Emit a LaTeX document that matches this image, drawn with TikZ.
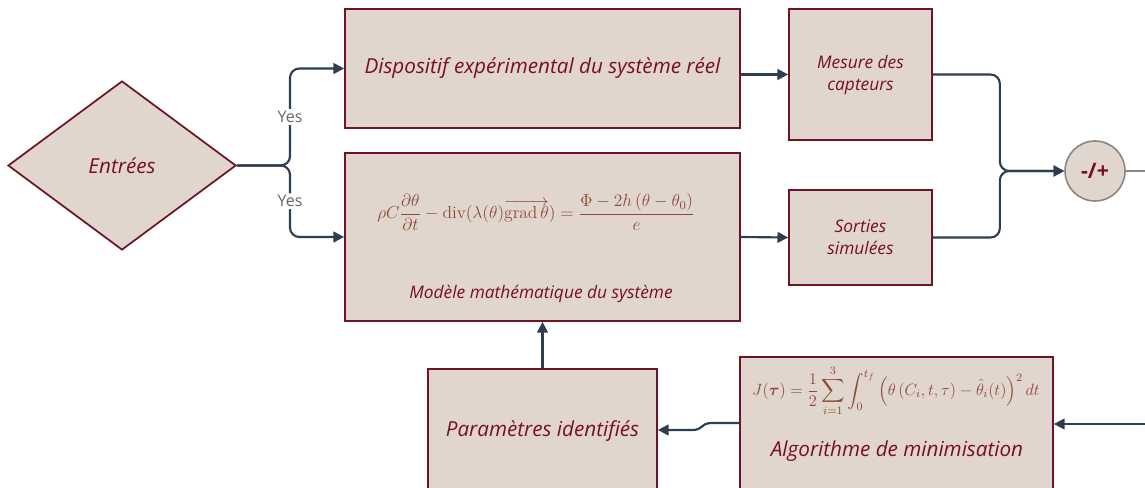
\RequirePackage{fix-cm}
\documentclass[tikz,border=0pt]{standalone}
\usepackage{amsmath,amssymb}
\usepackage{fontspec}
\setsansfont{Open Sans}
\usepackage{xcolor}
\usepackage{tikz}
\usetikzlibrary{arrows.meta,positioning,shapes.geometric,calc}
\definecolor{boxfill}{HTML}{E0D6CE}
\definecolor{boxline}{HTML}{6E1426}
\definecolor{boxtext}{HTML}{7A0F1E}
\definecolor{mathtext}{HTML}{8B4A32}
\definecolor{arrowcol}{HTML}{2D3E50}
\definecolor{sumline}{HTML}{8C8680}

\begin{document}
\begin{tikzpicture}[
  x=0.75pt,y=-0.75pt,
  bx/.style={draw=boxline,line width=1.3pt,fill=boxfill,align=center,inner sep=2pt,
    text=boxtext,font=\sffamily\itshape\fontsize{15.5}{18}\selectfont},
  smallbx/.style={bx,font=\sffamily\itshape\fontsize{13}{16.5}\selectfont},
  eq/.style={text=mathtext,font=\fontsize{13.1}{15}\selectfont},
  ar/.style={-{Triangle[length=8pt,width=8pt]},line width=1.6pt,draw=arrowcol,rounded corners=7pt},
  yes/.style={fill=white,text=gray!80!black,font=\sffamily\fontsize{12}{14}\selectfont,inner sep=1.5pt}
]
\useasboundingbox (0,0) rectangle (1145,488);
% blocks
\node[bx,diamond,minimum width=171pt,minimum height=126.75pt,inner sep=0pt] (entrees) at (122,165.5) {Entrées};
\node[bx,minimum width=296.25pt,minimum height=89.25pt] (dispo) at (542.5,68.5) {Dispositif expérimental du système réel};
\node[bx,minimum width=296.25pt,minimum height=126pt] (model) at (542.5,237) {};
\node[eq] (modeleq) at (536,212) {$\displaystyle \rho C\frac{\partial\theta}{\partial t}-\mathrm{div}(\lambda(\theta)\overrightarrow{\mathrm{grad}\,\theta})=\frac{\Phi-2h\left(\theta-\theta_0\right)}{e}$};
\node[text=boxtext,font=\sffamily\itshape\fontsize{13}{15}\selectfont] (modeltxt) at (541,294) {Modèle mathématique du système};
\node[smallbx,minimum width=107.25pt,minimum height=98.25pt] (mesure) at (860.5,74.5) {Mesure des\\capteurs};
\node[smallbx,minimum width=107.25pt,minimum height=71.25pt] (sorties) at (860.5,237.5) {Sorties\\simulées};
\node[circle,draw=sumline,line width=1.2pt,fill=boxfill,minimum size=45pt,inner sep=0pt,
  text=boxtext,font=\sffamily\bfseries\fontsize{16}{18}\selectfont] (sum) at (1095,171) {-/+};
\node[bx,minimum width=171.75pt,minimum height=93pt] (param) at (542.5,431) {Paramètres identifiés};
\node[bx,minimum width=234.75pt,minimum height=114.75pt] (algo) at (896.5,433.5) {};
\node[eq,font=\fontsize{12.25}{14}\selectfont] (algoeq) at (896,391) {$\displaystyle J(\boldsymbol{\tau})=\frac{1}{2}\sum_{i=1}^{3}\int_{0}^{t_f}\left(\theta\left(C_i,t,\tau\right)-\hat{\theta}_i(t)\right)^2dt$};
\node[text=boxtext,font=\sffamily\itshape\fontsize{15.5}{18}\selectfont] (algotxt) at (897,451) {Algorithme de minimisation};
\coordinate (fork) at (290,165.5);
\coordinate (out) at (1145,171);
\coordinate (in) at (1145,424);
% connectors
\draw[ar] (entrees.east) -- (fork) |- node[yes,pos=0.25] {Yes} (dispo.west);
\draw[ar] (entrees.east) -- (fork) |- node[yes,pos=0.25] {Yes} (model.west);
\draw[ar] (mesure.west -| dispo.east) -- (mesure.west);
\draw[ar] (model.east) -- (sorties.west);
\draw[ar] (mesure.east) -- ++(67,0) |- (sum.west);
\draw[ar] (sorties.east) -- ++(67,0) |- (sum.west);
\draw[draw=sumline,line width=1.2pt] (sum.east) -- (out);
\draw[ar] (in) -- (in -| algo.east);
\draw[ar,rounded corners=0pt] (algo.west |- 0,423) -- (712,423) .. controls (700,423) and (704,430) .. (692,430) -- (param.east |- 0,430);
\draw[ar] (param.north) -- (model.south);
\end{tikzpicture}
\end{document}
